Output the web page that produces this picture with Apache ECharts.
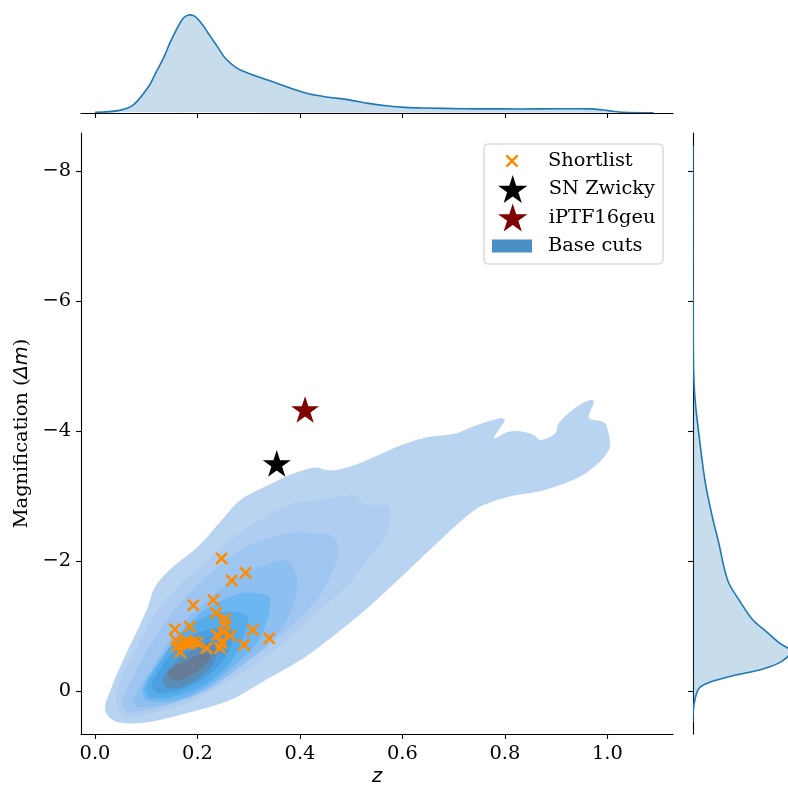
<!DOCTYPE html>
<html><head><meta charset="utf-8">
<script src="https://cdn.jsdelivr.net/npm/echarts@6/dist/echarts.min.js"></script>
<style>html,body{margin:0;padding:0;background:#fff}#c{width:788px;height:785px}</style>
</head><body><div id="c"></div><script>
// ---------------- data ----------------
const zTicks = [0, 0.2, 0.4, 0.6, 0.8, 1.0];
const magTicks = [-8, -6, -4, -2, 0];

const shortlistZ   = [0.247,0.294,0.267,0.192,0.231,0.236,0.254,0.156,0.185,0.308,0.340,0.291,0.264,0.238,0.247,0.158,0.176,0.185,0.166,0.218,0.244,0.192,0.160,0.254,0.200,0.178,0.250];
const shortlistMag = [-2.04,-1.82,-1.70,-1.32,-1.40,-1.20,-1.11,-0.95,-0.99,-0.94,-0.81,-0.71,-0.85,-0.86,-0.74,-0.78,-0.73,-0.73,-0.60,-0.66,-0.66,-0.76,-0.68,-1.02,-0.74,-0.77,-0.90];

const snZwicky  = [0.3547, -3.48];
const iptf16geu = [0.410, -4.31];

// KDE contour levels of "Base cuts" (z, magnification), outermost first
const baseCutsLevel1 = [[0.0195,0.29],[0.040,0.47],[0.096,0.49],[0.180,0.34],[0.264,0.14],[0.333,-0.17],[0.402,-0.48],[0.472,-0.89],[0.528,-1.25],[0.597,-1.75],[0.668,-2.28],[0.724,-2.68],[0.752,-2.84],[0.807,-2.99],[0.876,-3.09],[0.947,-3.30],[0.988,-3.55],[1.005,-3.76],[0.999,-4.07],[0.992,-4.14],[0.964,-4.20],[0.974,-4.45],[0.968,-4.48],[0.939,-4.37],[0.905,-4.12],[0.898,-3.96],[0.870,-3.86],[0.856,-3.94],[0.835,-3.99],[0.807,-3.99],[0.779,-3.89],[0.800,-4.17],[0.792,-4.20],[0.738,-4.07],[0.703,-3.96],[0.640,-3.89],[0.597,-3.78],[0.515,-3.50],[0.472,-3.40],[0.451,-3.40],[0.431,-3.44],[0.388,-3.35],[0.347,-3.20],[0.284,-2.94],[0.242,-2.58],[0.201,-2.22],[0.152,-1.91],[0.117,-1.60],[0.103,-1.29],[0.089,-1.04],[0.061,-0.58],[0.033,-0.07]];
const baseCutsLevel2 = [[0.041,0.138],[0.0547,-0.277],[0.082,-0.677],[0.109,-1.092],[0.139,-1.40],[0.174,-1.708],[0.215,-1.97],[0.264,-2.32],[0.320,-2.63],[0.388,-2.89],[0.439,-2.94],[0.478,-2.985],[0.507,-3.015],[0.521,-2.89],[0.570,-2.86],[0.576,-2.785],[0.574,-2.52],[0.562,-2.32],[0.531,-2.015],[0.498,-1.66],[0.433,-1.20],[0.381,-0.83],[0.316,-0.415],[0.250,-0.108],[0.185,0.169],[0.121,0.323],[0.0586,0.40]];
const baseCutsLevel3 = [[0.474,-2.215],[0.4646,-2.37],[0.445,-2.415],[0.381,-2.43],[0.316,-2.29],[0.264,-2.06],[0.211,-1.708],[0.166,-1.354],[0.127,-0.938],[0.0937,-0.523],[0.0683,-0.123],[0.0527,0.185],[0.0625,0.323],[0.121,0.262],[0.185,0.092],[0.250,-0.215],[0.316,-0.585],[0.381,-0.985],[0.433,-1.40],[0.4646,-1.86],[0.474,-2.09]];
const baseCutsLevel4 = [[0.394,-1.754],[0.381,-1.97],[0.367,-2.015],[0.316,-1.892],[0.269,-1.708],[0.219,-1.40],[0.172,-1.046],[0.133,-0.631],[0.1015,-0.215],[0.0742,0.138],[0.0878,0.246],[0.152,0.185],[0.219,-0.015],[0.283,-0.369],[0.3416,-0.738],[0.381,-1.20],[0.394,-1.554]];
const baseCutsLevel5 = [[0.3416,-1.43],[0.328,-1.492],[0.289,-1.508],[0.250,-1.40],[0.205,-1.20],[0.166,-0.892],[0.127,-0.477],[0.0937,-0.0615],[0.1015,0.138],[0.160,0.138],[0.219,-0.0615],[0.269,-0.369],[0.316,-0.738],[0.338,-1.138]];
const baseCutsLevel6 = [[0.2987,-1.123],[0.277,-1.215],[0.238,-1.20],[0.191,-1.046],[0.152,-0.738],[0.121,-0.369],[0.0976,-0.0154],[0.113,0.108],[0.166,0.0615],[0.219,-0.123],[0.2635,-0.431],[0.289,-0.831]];
const baseCutsLevel7 = [[0.2674,-0.938],[0.254,-0.985],[0.205,-0.908],[0.166,-0.708],[0.1366,-0.446],[0.111,-0.092],[0.123,0.031],[0.166,-0.0154],[0.215,-0.20],[0.248,-0.446],[0.2655,-0.708]];
const baseCutsLevel8 = [[0.240,-0.708],[0.2245,-0.754],[0.195,-0.662],[0.162,-0.477],[0.1327,-0.20],[0.1405,-0.046],[0.1757,-0.077],[0.209,-0.231],[0.232,-0.446]];
const baseCutsLevel9 = [[0.1425,-0.277],[0.1464,-0.185],[0.166,-0.169],[0.195,-0.277],[0.219,-0.446],[0.2245,-0.554],[0.211,-0.585],[0.1757,-0.446],[0.150,-0.354]];

// marginal KDE of z (top)
const topKdeZ       = [0.000,0.045,0.075,0.105,0.120,0.135,0.146,0.157,0.172,0.183,0.195,0.210,0.221,0.232,0.243,0.254,0.277,0.307,0.344,0.381,0.419,0.456,0.493,0.531,0.568,0.605,0.643,0.717,0.792,0.866,0.941,0.971,1.001,1.031,1.090];
const topKdeDensity = [0.03,0.11,0.38,1.24,1.93,2.62,3.24,3.78,4.40,4.55,4.48,4.09,3.70,3.32,2.93,2.55,2.08,1.77,1.47,1.16,0.88,0.73,0.62,0.46,0.34,0.26,0.23,0.20,0.19,0.19,0.20,0.19,0.11,0.03,0.01];

// marginal KDE of magnification (right)
const rightKdeMag     = [-8.39,-7.00,-5.23,-4.74,-4.38,-4.02,-3.59,-3.16,-2.68,-2.25,-1.89,-1.65,-1.40,-1.10,-0.92,-0.74,-0.61,-0.46,-0.34,-0.22,-0.13,-0.04,0.12,0.30,0.48];
const rightKdeDensity = [0.000,0.000,0.002,0.007,0.018,0.036,0.059,0.086,0.130,0.176,0.210,0.243,0.310,0.400,0.490,0.580,0.660,0.600,0.470,0.243,0.108,0.040,0.014,0.002,0.000];

// ---------------- chart ----------------
const contourLevels = [baseCutsLevel1,baseCutsLevel2,baseCutsLevel3,baseCutsLevel4,baseCutsLevel5,baseCutsLevel6,baseCutsLevel7,baseCutsLevel8,baseCutsLevel9];
const levelColors = ['#b9d4f0','#aecdf1','#9fc6f1','#8dbff1','#6cb6f1','#55aceb','#4b9fe0','#5a8cb8','#667b94'];

const X_MIN = -0.0273, X_MAX = 1.128, Y_MIN = -8.585, Y_MAX = 0.6615;
const SERIF = 'DejaVu Serif';
const FS = 19.4;
const starPath = 'path://M100,0L122.45,69.1L195.1,69.1L136.3,111.8L158.8,180.9L100,138.2L41.2,180.9L63.7,111.8L4.9,69.1L77.55,69.1Z';
const xPath = 'path://M0,14L14,0L100,86L86,100ZM86,0L100,14L14,100L0,86Z';
const rectPath = 'path://M0,0L40,0L40,13L0,13Z';
const black = '#000';
const kdeLine = '#1f77b4', kdeFill = 'rgba(31,119,180,0.25)';
const spine = {show:true, onZero:false, lineStyle:{color:black, width:1.1}};
const tickStyle = {color:black, width:1.1};
const magFmt = v => (v < 0 ? '\u2212' : '') + Math.abs(v);

// icon centre at x=512, text starts at x=548
function mkLegend(name, icon, color, w, h, cy) {
  return {
    data:[{name:name, icon:icon, itemStyle:{color:color, borderWidth:0, opacity:1}}],
    left:512 - w/2, top:cy-14, orient:'vertical', itemWidth:62, itemHeight:h,
    padding:0, itemGap:0, selectedMode:false, symbolKeepAspect:true, z:10,
    textStyle:{fontFamily:SERIF, fontSize:FS, color:black, lineHeight:28}
  };
}

// marginal KDE drawn as filled area + outline
function kdeRenderer(xs, ys) {
  return (params, api) => {
    if (params.dataIndex !== 0) return null;
    const pts = xs.map((x,i) => api.coord([x, ys[i]]));
    return {type:'group', children:[
      {type:'polygon', shape:{points:pts, smooth:0.3}, style:{fill:kdeFill}},
      {type:'polyline', shape:{points:pts, smooth:0.3}, style:{fill:null, stroke:kdeLine, lineWidth:1.6}}
    ]};
  };
}

const chart = echarts.init(document.getElementById('c'), null, {renderer:'canvas'});
chart.setOption({
  animation:false,
  backgroundColor:'#fff',
  grid:[
    {left:81, top:133, width:592, height:601, outerBoundsMode:'none', containLabel:false},
    {left:81, top:10, width:592, height:103, outerBoundsMode:'none', containLabel:false},
    {left:693, top:133, width:103, height:601, outerBoundsMode:'none', containLabel:false}
  ],
  xAxis:[
    {gridIndex:0, type:'value', min:X_MIN, max:X_MAX,
     name:'z', nameLocation:'middle', nameGap:32,
     nameTextStyle:{fontFamily:'DejaVu Sans', fontStyle:'italic', fontSize:FS, color:black},
     axisLine:spine, splitLine:{show:false},
     axisTick:{show:true, length:4.9, customValues:zTicks, lineStyle:tickStyle},
     axisLabel:{show:true, customValues:zTicks, formatter:v => v.toFixed(1), margin:10, fontFamily:SERIF, fontSize:FS, color:black}},
    {gridIndex:1, type:'value', min:X_MIN, max:X_MAX,
     axisLine:spine, splitLine:{show:false},
     axisTick:{show:true, length:4.9, customValues:zTicks, lineStyle:tickStyle},
     axisLabel:{show:false}},
    {gridIndex:2, type:'value', min:0, max:0.693, show:false, splitLine:{show:false}}
  ],
  yAxis:[
    {gridIndex:0, type:'value', inverse:true, min:Y_MIN, max:Y_MAX,
     name:'Magnification ({i|\u0394m})', nameLocation:'middle', nameGap:38,
     nameTextStyle:{fontFamily:SERIF, fontSize:FS, color:black,
       rich:{i:{fontFamily:'DejaVu Sans', fontStyle:'italic', fontSize:FS, color:black}}},
     axisLine:spine, splitLine:{show:false},
     axisTick:{show:true, length:4.9, customValues:magTicks, lineStyle:tickStyle},
     axisLabel:{show:true, customValues:magTicks, formatter:magFmt, margin:10, fontFamily:SERIF, fontSize:FS, color:black}},
    {gridIndex:1, type:'value', min:0, max:4.78, show:false, splitLine:{show:false}},
    {gridIndex:2, type:'value', inverse:true, min:Y_MIN, max:Y_MAX,
     axisLine:spine, splitLine:{show:false},
     axisTick:{show:true, length:4.9, customValues:magTicks, lineStyle:tickStyle},
     axisLabel:{show:false}}
  ],
  legend:[
    mkLegend('Shortlist', xPath, '#ff8c00', 13, 13, 161),
    mkLegend('SN Zwicky', starPath, '#000000', 28, 28, 189),
    mkLegend('iPTF16geu', starPath, '#800000', 28, 28, 217.5),
    mkLegend('Base cuts', rectPath, '#4a8fc6', 40, 13, 246)
  ],
  graphic:[{type:'rect', z:5, shape:{x:484, y:144, width:179, height:120, r:4},
            style:{fill:'rgba(255,255,255,0.8)', stroke:'#cccccc', lineWidth:1.1}}],
  series:[
    {name:'Base cuts', type:'custom', coordinateSystem:'cartesian2d', xAxisIndex:0, yAxisIndex:0,
     z:1, silent:true, clip:true,
     data: contourLevels.map(lv => lv[0]),
     renderItem:(params, api) => {
       const lv = contourLevels[params.dataIndex];
       return {type:'polygon', shape:{points: lv.map(p => api.coord(p)), smooth:0.3},
               style:{fill: levelColors[params.dataIndex]}};
     }},
    {name:'Shortlist', type:'scatter', xAxisIndex:0, yAxisIndex:0, z:3,
     symbol:xPath, symbolSize:13,
     itemStyle:{color:'#ff8c00', opacity:1},
     data: shortlistZ.map((z,i) => [z, shortlistMag[i]])},
    {name:'SN Zwicky', type:'scatter', xAxisIndex:0, yAxisIndex:0, z:4,
     symbol:starPath, symbolSize:28, symbolKeepAspect:true, symbolOffset:[0,-1.4],
     itemStyle:{color:'#000000', opacity:1}, data:[snZwicky]},
    {name:'iPTF16geu', type:'scatter', xAxisIndex:0, yAxisIndex:0, z:4,
     symbol:starPath, symbolSize:28, symbolKeepAspect:true, symbolOffset:[0,-1.4],
     itemStyle:{color:'#800000', opacity:1}, data:[iptf16geu]},
    {name:'z KDE', type:'custom', coordinateSystem:'cartesian2d', xAxisIndex:1, yAxisIndex:1,
     silent:true, clip:true,
     data: topKdeZ.map((z,i) => [z, topKdeDensity[i]]),
     renderItem: kdeRenderer(topKdeZ, topKdeDensity)},
    {name:'mag KDE', type:'custom', coordinateSystem:'cartesian2d', xAxisIndex:2, yAxisIndex:2,
     silent:true, clip:true,
     data: rightKdeMag.map((m,i) => [rightKdeDensity[i], m]),
     renderItem: kdeRenderer(rightKdeDensity, rightKdeMag)}
  ]
});
</script></body></html>
